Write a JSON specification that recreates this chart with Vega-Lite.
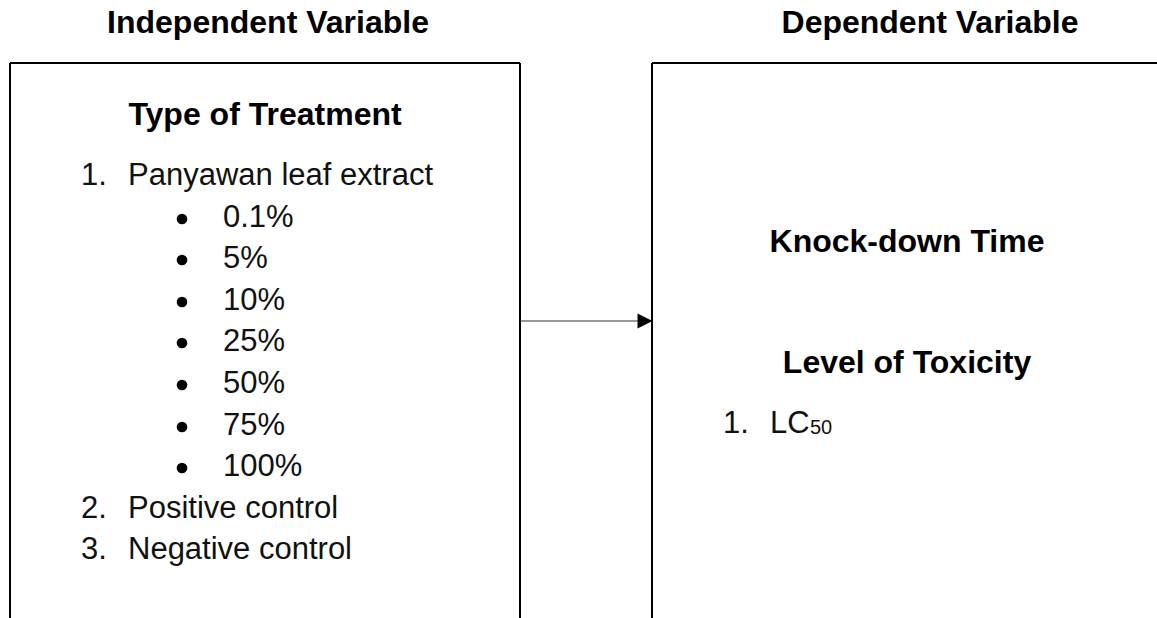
{
  "$schema": "https://vega.github.io/schema/vega-lite/v6.json",
  "width": 1157,
  "height": 618,
  "padding": 0,
  "autosize": {"type": "none"},
  "background": "white",
  "config": {"view": {"stroke": null}},
  "datasets": {
    "boxes": [
      {"x": 10, "x2": 520, "y": 63, "y2": 63},
      {"x": 10, "x2": 10, "y": 63, "y2": 618},
      {"x": 520, "x2": 520, "y": 63, "y2": 618},
      {"x": 652, "x2": 1157, "y": 63, "y2": 63},
      {"x": 652, "x2": 652, "y": 63, "y2": 618}
    ],
    "arrow": [{"x": 520, "x2": 640, "y": 321, "y2": 321}],
    "head": [{"x": 645, "y": 321}],
    "headings": [
      {"label": "Independent Variable", "x": 268, "y": 33},
      {"label": "Dependent Variable", "x": 930, "y": 33},
      {"label": "Type of Treatment", "x": 265, "y": 125},
      {"label": "Knock-down Time", "x": 907, "y": 252},
      {"label": "Level of Toxicity", "x": 907, "y": 373}
    ],
    "items": [
      {"label": "1.", "x": 81, "y": 185},
      {"label": "Panyawan leaf extract", "x": 128, "y": 185},
      {"label": "0.1%", "x": 223, "y": 227},
      {"label": "5%", "x": 223, "y": 268},
      {"label": "10%", "x": 223, "y": 310},
      {"label": "25%", "x": 223, "y": 351},
      {"label": "50%", "x": 223, "y": 393},
      {"label": "75%", "x": 223, "y": 435},
      {"label": "100%", "x": 223, "y": 476},
      {"label": "2.", "x": 81, "y": 518},
      {"label": "Positive control", "x": 128, "y": 518},
      {"label": "3.", "x": 81, "y": 559},
      {"label": "Negative control", "x": 128, "y": 559},
      {"label": "1.", "x": 723, "y": 433},
      {"label": "LC", "x": 770, "y": 433}
    ],
    "subs": [{"label": "50", "x": 810, "y": 434}],
    "bullets": [
      {"x": 182, "y": 219},
      {"x": 182, "y": 260},
      {"x": 182, "y": 302},
      {"x": 182, "y": 343},
      {"x": 182, "y": 385},
      {"x": 182, "y": 427},
      {"x": 182, "y": 468}
    ]
  },
  "layer": [
    {
      "data": {"name": "boxes"},
      "mark": {"type": "rule", "color": "#000000", "strokeWidth": 2},
      "encoding": {
        "x": {"field": "x", "type": "quantitative", "scale": {"domain": [0, 1157], "nice": false, "zero": false}, "axis": null},
        "x2": {"field": "x2"},
        "y": {"field": "y", "type": "quantitative", "scale": {"domain": [0, 618], "nice": false, "zero": false, "reverse": true}, "axis": null},
        "y2": {"field": "y2"}
      }
    },
    {
      "data": {"name": "arrow"},
      "mark": {"type": "rule", "color": "#333333", "strokeWidth": 1.2},
      "encoding": {
        "x": {"field": "x", "type": "quantitative"},
        "x2": {"field": "x2"},
        "y": {"field": "y", "type": "quantitative"},
        "y2": {"field": "y2"}
      }
    },
    {
      "data": {"name": "head"},
      "mark": {"type": "point", "shape": "M-1,-1L1,0L-1,1Z", "filled": true, "color": "#000000", "size": 225, "opacity": 1},
      "encoding": {
        "x": {"field": "x", "type": "quantitative"},
        "y": {"field": "y", "type": "quantitative"}
      }
    },
    {
      "data": {"name": "bullets"},
      "mark": {"type": "point", "shape": "circle", "filled": true, "color": "#000000", "size": 113, "opacity": 1},
      "encoding": {
        "x": {"field": "x", "type": "quantitative"},
        "y": {"field": "y", "type": "quantitative"}
      }
    },
    {
      "data": {"name": "headings"},
      "mark": {"type": "text", "align": "center", "baseline": "alphabetic", "font": "Liberation Sans", "fontWeight": "bold", "fontSize": 32, "color": "#000000"},
      "encoding": {
        "x": {"field": "x", "type": "quantitative"},
        "y": {"field": "y", "type": "quantitative"},
        "text": {"field": "label"}
      }
    },
    {
      "data": {"name": "items"},
      "mark": {"type": "text", "align": "left", "baseline": "alphabetic", "font": "Liberation Sans", "fontSize": 31, "color": "#111111"},
      "encoding": {
        "x": {"field": "x", "type": "quantitative"},
        "y": {"field": "y", "type": "quantitative"},
        "text": {"field": "label"}
      }
    },
    {
      "data": {"name": "subs"},
      "mark": {"type": "text", "align": "left", "baseline": "alphabetic", "font": "Liberation Sans", "fontSize": 20, "color": "#111111"},
      "encoding": {
        "x": {"field": "x", "type": "quantitative"},
        "y": {"field": "y", "type": "quantitative"},
        "text": {"field": "label"}
      }
    }
  ]
}
